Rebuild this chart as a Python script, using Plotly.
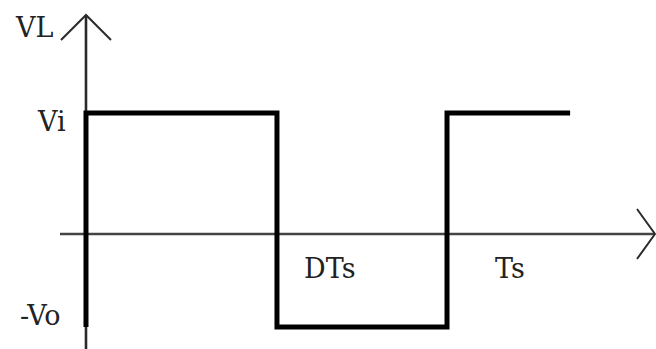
import plotly.graph_objects as go

# ---- data (normalised: Ts = 1, Vi = 1) ----
t_points = [0.0, 0.0, 0.529, 0.529, 1.0, 1.0, 1.341]
v_points = [-0.769, 1.0, 1.0, -0.769, -0.769, 1.0, 1.0]
Vi = 1.0
neg_Vo = -0.769
D = 0.529
Ts = 1.0
level_labels = ["Vi", "-Vo"]
time_labels = ["DTs", "Ts"]
axis_label_v = "VL"

# ---- view ----
W, H = 656, 349
x_range = [-0.2382, 1.5789]
y_range = [-0.9504, 1.9339]
px_x = W / (x_range[1] - x_range[0])
px_y = H / (y_range[1] - y_range[0])

def dx(p):
    return p / px_x

def dy(p):
    return p / px_y

fig = go.Figure()
axis_col = "#2a2a2a"

# horizontal axis with open chevron
h_start, h_end = -0.072, x_range[1] - dx(1)
fig.add_trace(go.Scatter(x=[h_start, h_end], y=[0, 0], mode="lines",
                         line=dict(color="#444444", width=2.4), hoverinfo="skip"))
fig.add_trace(go.Scatter(x=[h_end - dx(18), h_end, h_end - dx(18)],
                         y=[dy(25), 0, -dy(25)], mode="lines",
                         line=dict(color=axis_col, width=2), hoverinfo="skip"))
# vertical axis with open chevron
v_top = 1.81
fig.add_trace(go.Scatter(x=[0, 0], y=[y_range[0], v_top], mode="lines",
                         line=dict(color=axis_col, width=2.6), hoverinfo="skip"))
fig.add_trace(go.Scatter(x=[-dx(25), 0, dx(25)], y=[v_top - dy(25), v_top, v_top - dy(25)],
                         mode="lines", line=dict(color=axis_col, width=2), hoverinfo="skip"))

# waveform
fig.add_trace(go.Scatter(x=t_points, y=v_points, mode="lines",
                         line=dict(color="#000000", width=5), hoverinfo="skip"))

font = dict(family="DejaVu Serif, serif", size=27, color="#222222")
ann = [
    dict(x=-dx(52), y=v_top - dy(13), text=axis_label_v),
    dict(x=-dx(34), y=Vi - dy(8), text=level_labels[0]),
    dict(x=-dx(46), y=neg_Vo + dy(12), text=level_labels[1]),
    dict(x=D * Ts + dx(53), y=-dy(34), text=time_labels[0]),
    dict(x=Ts + dx(63), y=-dy(34), text=time_labels[1]),
]
for a in ann:
    fig.add_annotation(x=a["x"], y=a["y"], text=a["text"], showarrow=False,
                       font=font, xanchor="center", yanchor="middle")

fig.update_layout(
    width=W, height=H, margin=dict(l=0, r=0, t=0, b=0),
    paper_bgcolor="white", plot_bgcolor="white", showlegend=False,
    xaxis=dict(range=x_range, visible=False, fixedrange=True),
    yaxis=dict(range=y_range, visible=False, fixedrange=True),
)
fig.write_html("out.html", config={"displayModeBar": False},
               post_script="document.body.style.margin='0';document.body.style.overflow='hidden';")
